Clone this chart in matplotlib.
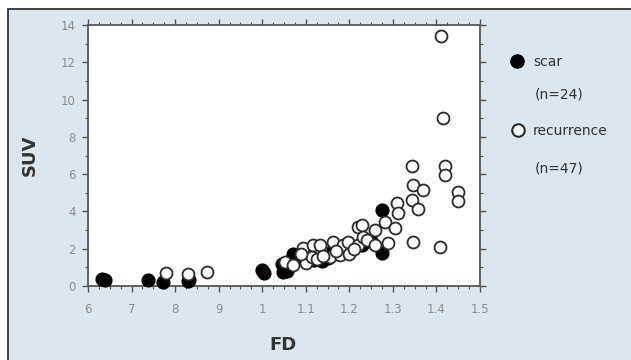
import matplotlib
matplotlib.use("Agg")
import matplotlib.pyplot as plt
from matplotlib.patches import Rectangle
from matplotlib.lines import Line2D
from matplotlib.ticker import MultipleLocator

plt.rcParams['font.family'] = ['DejaVu Sans']

# ---- data ----
scar_fd = [0.632, 0.640, 0.738, 0.772, 0.830, 0.832, 1.000, 1.005, 1.045, 1.048,
           1.058, 1.070, 1.080, 1.100, 1.120, 1.137, 1.150, 1.163, 1.180, 1.195,
           1.230, 1.250, 1.275, 1.275]
scar_suv = [0.35, 0.30, 0.30, 0.22, 0.25, 0.30, 0.86, 0.72, 1.20, 0.75,
            0.80, 1.70, 1.50, 1.30, 1.40, 1.32, 1.50, 1.93, 1.80, 1.90,
            2.20, 2.40, 4.08, 1.77]

rec_fd = [0.780, 0.830, 0.873, 1.052, 1.070, 1.094, 1.105, 1.100, 1.114, 1.117,
          1.133, 1.125, 1.163, 1.156, 1.179, 1.185, 1.197, 1.200, 1.220, 1.229,
          1.220, 1.231, 1.240, 1.259, 1.259, 1.282, 1.289, 1.305, 1.309, 1.312,
          1.344, 1.346, 1.358, 1.369, 1.346, 1.344, 1.408, 1.410, 1.415, 1.420,
          1.420, 1.449, 1.449, 1.210, 1.140, 1.090, 1.170]
rec_suv = [0.70, 0.64, 0.75, 1.30, 1.13, 2.05, 1.40, 1.23, 1.56, 2.20,
           2.20, 1.45, 2.36, 1.56, 1.66, 2.20, 2.36, 1.70, 3.17, 3.27,
           2.20, 2.63, 2.47, 3.00, 2.20, 3.45, 2.31, 3.10, 4.45, 3.90,
           4.61, 5.42, 4.12, 5.15, 2.36, 6.45, 2.10, 13.40, 9.00, 6.45,
           5.95, 5.05, 4.55, 2.00, 1.60, 1.70, 1.90]

x_ticks = [0.6, 0.7, 0.8, 0.9, 1.0, 1.1, 1.2, 1.3, 1.4, 1.5]
x_ticklabels = ["6", "7", "8", "9", "1", "1.1", "1.2", "1.3", "1.4", "1.5"]
y_ticks = [0, 2, 4, 6, 8, 10, 12, 14]

scar_label = "scar"
scar_n = "(n=24)"
rec_label = "recurrence"
rec_n = "(n=47)"

# ---- figure ----
W, H = 631, 360
fig = plt.figure(figsize=(W / 100, H / 100), dpi=100, facecolor="white")
bg = "#dce6ee"
fig.patches.append(Rectangle((8 / W, -0.01), 1.0, 1 - 9 / H + 0.01,
                             transform=fig.transFigure, facecolor=bg,
                             edgecolor="#222222", linewidth=1.2, zorder=-10))

ax = fig.add_axes([88 / W, 1 - 286 / H, (480 - 88) / W, (286 - 25) / H])
ax.set_zorder(2)
ax.set_facecolor("white")

ax.plot(scar_fd, scar_suv, linestyle="none", marker="o", markersize=9.2,
        markerfacecolor="black", markeredgecolor="black", markeredgewidth=1.0,
        zorder=3, clip_on=False)
ax.plot(rec_fd, rec_suv, linestyle="none", marker="o", markersize=8.6,
        markerfacecolor="white", markeredgecolor="#2a2a2a", markeredgewidth=1.3,
        zorder=4, clip_on=False)

ax.set_xlim(0.6, 1.5)
ax.set_ylim(0, 14)
ax.set_xticks(x_ticks)
ax.set_xticklabels(x_ticklabels)
ax.set_yticks(y_ticks)
ax.xaxis.set_minor_locator(MultipleLocator(0.025))
ax.yaxis.set_minor_locator(MultipleLocator(1))

spine_c = "#555555"
for s in ax.spines.values():
    s.set_color(spine_c)
    s.set_linewidth(1.3)

ax.tick_params(which="both", direction="out", top=True, right=True,
               color=spine_c, labelcolor="#8c8c8c", labelsize=8.5)
ax.tick_params(which="major", length=4, width=1.0)
ax.tick_params(which="minor", length=2.5, width=0.8)
ax.tick_params(axis="x", which="major", pad=8)
ax.tick_params(axis="y", which="major", pad=5)

fig.text(30 / W, 1 - 155 / H, "SUV", rotation=90, ha="center", va="center",
         fontsize=13, fontweight="bold", color="#333333")
fig.text(283 / W, 1 - 345 / H, "FD", ha="center", va="center",
         fontsize=13, fontweight="bold", color="#333333")

# legend (manual, outside axes)
fig.add_artist(Line2D([517 / W], [1 - 61 / H], marker="o", markersize=9.5,
                      markerfacecolor="black", markeredgecolor="black",
                      linestyle="none", transform=fig.transFigure))
fig.add_artist(Line2D([518 / W], [1 - 130 / H], marker="o", markersize=9,
                      markerfacecolor="white", markeredgecolor="#2a2a2a",
                      markeredgewidth=1.5, linestyle="none",
                      transform=fig.transFigure))
tc = "#333333"
fs = 10
fig.text(533 / W, 1 - 62 / H, scar_label, ha="left", va="center", fontsize=fs, color=tc)
fig.text(535 / W, 1 - 95 / H, scar_n, ha="left", va="center", fontsize=fs, color=tc)
fig.text(533 / W, 1 - 131 / H, rec_label, ha="left", va="center", fontsize=fs, color=tc)
fig.text(535 / W, 1 - 169 / H, rec_n, ha="left", va="center", fontsize=fs, color=tc)

fig.savefig("out.png", dpi=100, facecolor=fig.get_facecolor())
